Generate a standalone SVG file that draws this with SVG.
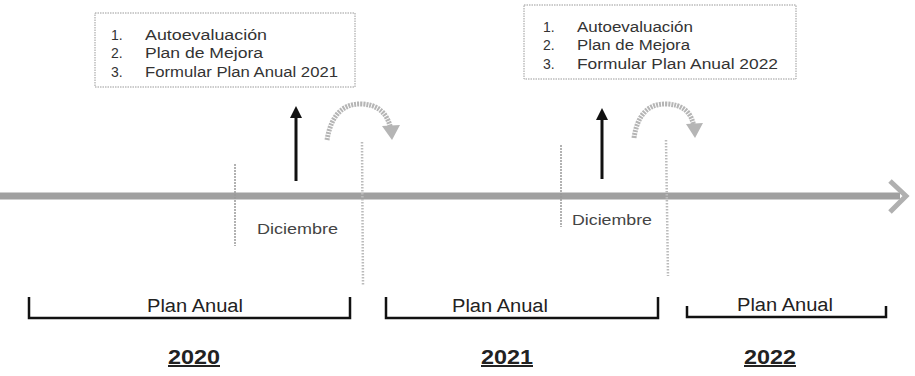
<svg xmlns="http://www.w3.org/2000/svg" width="915" height="376" viewBox="0 0 915 376">
<style>
.box{fill:#fff;stroke:#999;stroke-width:1;stroke-dasharray:1.5 1}
.bt{font-family:"Liberation Sans",Arial,sans-serif;font-size:14px;fill:#333}
.dic{font-family:"Liberation Sans",Arial,sans-serif;font-size:14px;fill:#444}
.pa{font-family:"Liberation Sans",Arial,sans-serif;font-size:18px;fill:#222}
.yr{font-family:"Liberation Sans",Arial,sans-serif;font-size:20px;font-weight:bold;fill:#222;text-decoration:underline}
.tick{stroke:#999;stroke-width:1.5;stroke-dasharray:2 1}
.dv{stroke:#bbb;stroke-width:2.5;stroke-dasharray:1.5 1.5;fill:none}
.br{fill:none;stroke:#111;stroke-width:2.5}
.up{stroke:#111;stroke-width:3;fill:none}
.arc{fill:none;stroke:#b5b5b5;stroke-width:5;stroke-dasharray:2 1}
.arh{fill:#b5b5b5}
</style>
<defs>
<marker id="ah" viewBox="0 0 10 10" refX="5" refY="5" markerWidth="4" markerHeight="4" orient="auto-start-reverse">
<path d="M0,0 L10,5 L0,10 z" fill="#111"/>
</marker>
</defs>
<g id="connectors">
<line x1="0" y1="196" x2="900" y2="196" stroke="#a0a0a0" stroke-width="7"/>
<path d="M890,181 L906,196 L890,212" fill="none" stroke="#b0b0b0" stroke-width="5"/>
<line class="tick" x1="235" y1="164" x2="235" y2="246"/>
<line class="tick" x1="561" y1="145" x2="561" y2="227"/>
<line class="dv" x1="362" y1="142" x2="363" y2="285"/>
<line class="dv" x1="666" y1="140" x2="668" y2="276"/>
<line class="up" x1="296" y1="181" x2="296" y2="112" marker-end="url(#ah)"/>
<line class="up" x1="602" y1="179" x2="602" y2="114" marker-end="url(#ah)"/>
<path class="arc" d="M327,140 Q333,104 360,104 Q386,104 391,130"/>
<path class="arh" d="M382,126 L392,140 L400,125 z"/>
<path class="arc" d="M634,138 Q639,104 665,104 Q691,104 694,128"/>
<path class="arh" d="M686,124 L695,138 L703,123 z"/>
</g>
<g id="box1">
<rect class="box" x="95" y="13" width="260" height="74"/>
<text class="bt" x="111" y="40">1.</text><text class="bt" x="145" y="40" textLength="122" lengthAdjust="spacingAndGlyphs">Autoevaluación</text>
<text class="bt" x="111" y="58">2.</text><text class="bt" x="145" y="58" textLength="118" lengthAdjust="spacingAndGlyphs">Plan de Mejora</text>
<text class="bt" x="111" y="77">3.</text><text class="bt" x="145" y="77" textLength="193" lengthAdjust="spacingAndGlyphs">Formular Plan Anual 2021</text>
</g>
<g id="box2">
<rect class="box" x="524" y="5" width="272" height="74"/>
<text class="bt" x="543" y="32">1.</text><text class="bt" x="577" y="32" textLength="116" lengthAdjust="spacingAndGlyphs">Autoevaluación</text>
<text class="bt" x="543" y="50">2.</text><text class="bt" x="577" y="50" textLength="113" lengthAdjust="spacingAndGlyphs">Plan de Mejora</text>
<text class="bt" x="543" y="69">3.</text><text class="bt" x="577" y="69" textLength="201" lengthAdjust="spacingAndGlyphs">Formular Plan Anual 2022</text>
</g>
<g id="dic1"><text class="dic" x="257" y="234" textLength="81" lengthAdjust="spacingAndGlyphs">Diciembre</text></g>
<g id="dic2"><text class="dic" x="572" y="225" textLength="80" lengthAdjust="spacingAndGlyphs">Diciembre</text></g>
<g id="plan1">
<path class="br" d="M29,297 L29,318 L350,318 L350,297"/>
<text class="pa" x="147" y="312" textLength="96" lengthAdjust="spacingAndGlyphs">Plan Anual</text>
</g>
<g id="plan2">
<path class="br" d="M386,297 L386,318 L658,318 L658,297"/>
<text class="pa" x="452" y="312" textLength="96" lengthAdjust="spacingAndGlyphs">Plan Anual</text>
</g>
<g id="plan3">
<path class="br" d="M687,306 L687,317 L886,317 L886,306"/>
<text class="pa" x="737" y="311" textLength="96" lengthAdjust="spacingAndGlyphs">Plan Anual</text>
</g>
<g id="y2020"><text class="yr" x="168" y="364" textLength="52" lengthAdjust="spacingAndGlyphs">2020</text></g>
<g id="y2021"><text class="yr" x="481" y="364" textLength="52" lengthAdjust="spacingAndGlyphs">2021</text></g>
<g id="y2022"><text class="yr" x="744" y="364" textLength="52" lengthAdjust="spacingAndGlyphs">2022</text></g>
</svg>
